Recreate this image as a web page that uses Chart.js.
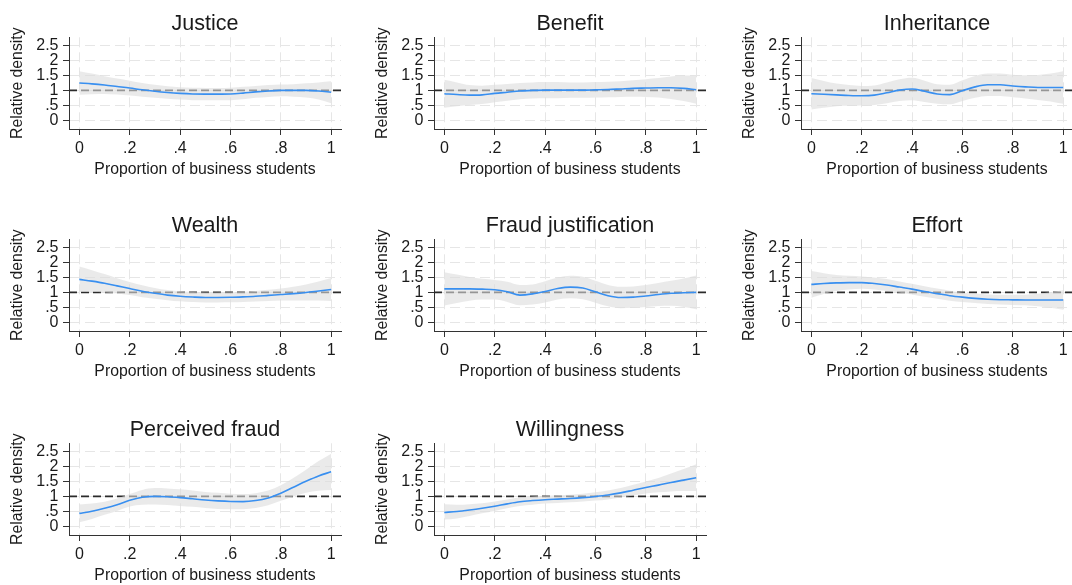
<!DOCTYPE html>
<html><head><meta charset="utf-8">
<script src="https://cdn.jsdelivr.net/npm/chart.js@4.4.0/dist/chart.umd.min.js"></script>
<style>
html,body{margin:0;padding:0;background:#fff;overflow:hidden;width:1072px;height:585px;position:relative}
canvas{position:absolute}
</style></head><body>
<script>
// ---- data ----
const xGrid = [0,0.05,0.1,0.15,0.2,0.25,0.3,0.35,0.4,0.45,0.5,0.55,0.6,0.65,0.7,0.75,0.8,0.85,0.9,0.95,1];
const xTicks = [0,0.2,0.4,0.6,0.8,1];
const xTickLabels = ['0','.2','.4','.6','.8','1'];
const yTicks = [0,0.5,1,1.5,2,2.5];
const yTickLabels = ['0','.5','1','1.5','2','2.5'];
const refValue = 1;
const titles = ['Justice','Benefit','Inheritance','Wealth','Fraud justification','Effort','Perceived fraud','Willingness'];
const xAxisTitle = 'Proportion of business students';
const yAxisTitle = 'Relative density';

const justiceMean  = [1.25,1.22,1.18,1.13,1.08,1.02,0.97,0.93,0.90,0.88,0.875,0.875,0.88,0.91,0.95,0.98,1.0,1.0,1.0,0.98,0.94];
const justiceUpper = [1.65,1.57,1.48,1.40,1.33,1.25,1.19,1.14,1.11,1.09,1.085,1.085,1.09,1.12,1.15,1.18,1.2,1.21,1.24,1.27,1.31];
const justiceLower = [0.85,0.87,0.88,0.86,0.83,0.79,0.75,0.72,0.69,0.67,0.665,0.665,0.67,0.70,0.75,0.78,0.80,0.79,0.76,0.69,0.57];

const benefitMean  = [0.89,0.86,0.84,0.85,0.9,0.94,0.98,1.0,1.01,1.01,1.01,1.01,1.02,1.03,1.05,1.07,1.08,1.09,1.09,1.07,1.02];
const benefitUpper = [1.36,1.27,1.18,1.16,1.19,1.22,1.25,1.27,1.28,1.28,1.27,1.27,1.28,1.29,1.31,1.34,1.38,1.42,1.47,1.5,1.49];
const benefitLower = [0.42,0.47,0.51,0.54,0.6,0.65,0.7,0.73,0.74,0.74,0.75,0.75,0.76,0.77,0.78,0.79,0.78,0.76,0.71,0.64,0.55];

const inheritMean  = [0.89,0.87,0.85,0.83,0.82,0.84,0.92,1.01,1.05,0.97,0.88,0.86,0.99,1.12,1.19,1.19,1.15,1.12,1.10,1.10,1.10];
const inheritUpper = [1.42,1.32,1.23,1.18,1.15,1.17,1.27,1.38,1.43,1.33,1.21,1.19,1.34,1.49,1.57,1.57,1.53,1.51,1.52,1.57,1.65];
const inheritLower = [0.36,0.42,0.47,0.48,0.49,0.51,0.57,0.64,0.67,0.61,0.55,0.53,0.64,0.75,0.81,0.81,0.77,0.73,0.68,0.63,0.55];

const wealthMean  = [1.44,1.38,1.31,1.22,1.13,1.04,0.97,0.91,0.87,0.845,0.83,0.83,0.835,0.85,0.87,0.9,0.93,0.96,1.0,1.05,1.1];
const wealthUpper = [1.87,1.75,1.62,1.48,1.35,1.24,1.15,1.08,1.04,1.015,1.0,1.0,1.005,1.02,1.05,1.09,1.13,1.19,1.27,1.37,1.49];
const wealthLower = [1.01,1.01,1.0,0.96,0.91,0.84,0.79,0.74,0.70,0.675,0.66,0.66,0.665,0.68,0.69,0.71,0.73,0.73,0.73,0.73,0.71];

const fraudJustMean  = [1.12,1.12,1.12,1.11,1.09,1.02,0.91,0.95,1.03,1.13,1.18,1.15,1.02,0.89,0.83,0.84,0.88,0.93,0.97,0.99,1.0];
const fraudJustUpper = [1.68,1.60,1.52,1.46,1.42,1.36,1.25,1.27,1.38,1.50,1.56,1.53,1.39,1.25,1.19,1.20,1.25,1.32,1.39,1.47,1.57];
const fraudJustLower = [0.56,0.64,0.72,0.76,0.76,0.68,0.57,0.59,0.66,0.76,0.80,0.77,0.65,0.53,0.47,0.48,0.51,0.54,0.55,0.51,0.43];

const effortMean  = [1.27,1.30,1.32,1.33,1.33,1.30,1.25,1.18,1.11,1.03,0.96,0.89,0.84,0.80,0.77,0.755,0.75,0.745,0.745,0.745,0.745];
const effortUpper = [1.72,1.65,1.59,1.56,1.54,1.50,1.45,1.37,1.29,1.21,1.13,1.06,1.00,0.96,0.93,0.92,0.92,0.925,0.955,1.005,1.075];
const effortLower = [0.82,0.95,1.05,1.10,1.12,1.10,1.05,0.99,0.93,0.85,0.79,0.72,0.68,0.64,0.61,0.59,0.58,0.565,0.535,0.485,0.415];

const perceivedMean  = [0.43,0.5,0.6,0.72,0.87,0.97,1.0,0.99,0.96,0.92,0.88,0.85,0.83,0.825,0.86,0.95,1.11,1.31,1.51,1.69,1.83];
const perceivedUpper = [0.73,0.76,0.82,0.93,1.08,1.22,1.28,1.27,1.24,1.20,1.15,1.12,1.09,1.08,1.11,1.2,1.38,1.62,1.90,2.19,2.44];
const perceivedLower = [0.13,0.24,0.38,0.51,0.66,0.72,0.73,0.71,0.68,0.65,0.61,0.58,0.57,0.57,0.61,0.70,0.85,1.0,1.12,1.19,1.22];

const willingMean  = [0.46,0.49,0.54,0.6,0.67,0.75,0.82,0.86,0.89,0.91,0.93,0.96,1.0,1.05,1.12,1.21,1.3,1.38,1.47,1.55,1.63];
const willingUpper = [0.74,0.72,0.74,0.77,0.83,0.9,0.96,1.0,1.02,1.04,1.06,1.09,1.14,1.2,1.28,1.39,1.5,1.62,1.77,1.92,2.08];
const willingLower = [0.22,0.26,0.34,0.43,0.51,0.6,0.68,0.72,0.76,0.78,0.8,0.83,0.86,0.9,0.96,1.03,1.1,1.14,1.17,1.18,1.18];

// ---- styling / layout ----
const X_MIN = -0.041, X_MAX = 1.039;
const Y_MIN = -0.30, Y_MAX = 2.79;
const FONT = "'Liberation Sans', Arial, sans-serif";
const TXT = '#1a1a1a';
const BLUE = '#388ff0';
const BAND = 'rgba(220,220,220,0.6)';
const panelLeft = [0, 365, 732];
const panelTop = [0, 202, 406];
const W = 366, H = 203;

Chart.defaults.font.family = FONT;
Chart.defaults.color = TXT;

const series = [
  [justiceMean, justiceUpper, justiceLower],
  [benefitMean, benefitUpper, benefitLower],
  [inheritMean, inheritUpper, inheritLower],
  [wealthMean, wealthUpper, wealthLower],
  [fraudJustMean, fraudJustUpper, fraudJustLower],
  [effortMean, effortUpper, effortLower],
  [perceivedMean, perceivedUpper, perceivedLower],
  [willingMean, willingUpper, willingLower]
];

const pts = arr => xGrid.map((x, i) => ({x: x, y: arr[i]}));

titles.forEach((t, k) => {
  const c = document.createElement('canvas');
  c.width = W; c.height = H;
  c.style.left = panelLeft[k % 3] + 'px';
  c.style.top = panelTop[Math.floor(k / 3)] + 'px';
  c.style.width = W + 'px'; c.style.height = H + 'px';
  document.body.appendChild(c);
  const [m, up, lo] = series[k];
  new Chart(c.getContext('2d'), {
    type: 'line',
    data: {
      datasets: [
        {data: pts(m), borderColor: BLUE, borderWidth: 1.6, pointRadius: 0, fill: false,
         cubicInterpolationMode: 'monotone', order: 0},
        {data: pts(up), borderColor: 'transparent', borderWidth: 0, pointRadius: 0, fill: '+1',
         backgroundColor: BAND, cubicInterpolationMode: 'monotone', order: 1},
        {data: pts(lo), borderColor: 'transparent', borderWidth: 0, pointRadius: 0, fill: false,
         cubicInterpolationMode: 'monotone', order: 2},
        {data: [{x: X_MIN, y: refValue}, {x: X_MAX, y: refValue}], borderColor: '#2b2b2b',
         borderWidth: 1.8, borderDash: [8, 4], pointRadius: 0, fill: false, order: 3}
      ]
    },
    options: {
      responsive: false,
      animation: false,
      events: [],
      layout: {padding: {top: 0, right: 25, bottom: 24, left: 0}},
      plugins: {
        legend: {display: false},
        tooltip: {enabled: false},
        title: {display: true, text: t, fullSize: false, color: TXT,
                font: {size: 21.5, weight: 'normal', family: FONT},
                padding: {top: 11, bottom: 0.5}}
      },
      scales: {
        x: {
          type: 'linear', min: X_MIN, max: X_MAX,
          afterBuildTicks: s => { s.ticks = xTicks.map(v => ({value: v})); },
          afterFit: s => { s.height = 50; },
          ticks: {callback: (v, i) => xTickLabels[i], font: {size: 16}, color: TXT, padding: 4,
                  autoSkip: false, maxRotation: 0},
          grid: {color: '#e6e6e6', lineWidth: 1, tickLength: 6, tickColor: '#333', tickWidth: 1,
                 tickBorderDash: [], borderDash: [10, 5]},
          border: {display: true, color: '#333', width: 1, dash: [10, 5]},
          title: {display: true, text: xAxisTitle, font: {size: 15.8}, color: TXT,
                  padding: {top: 0, bottom: 0}}
        },
        y: {
          type: 'linear', min: Y_MIN, max: Y_MAX,
          afterBuildTicks: s => { s.ticks = yTicks.map(v => ({value: v})); },
          afterFit: s => { s.width = 69; },
          ticks: {callback: (v, i) => yTickLabels[i], font: {size: 16}, color: TXT, padding: 4.5,
                  autoSkip: false},
          grid: {color: '#e6e6e6', lineWidth: 1, tickLength: 6, tickColor: '#333', tickWidth: 1,
                 tickBorderDash: [], borderDash: [10, 5]},
          border: {display: true, color: '#333', width: 1, dash: [10, 5]},
          title: {display: true, text: yAxisTitle, font: {size: 15.8}, color: TXT,
                  padding: {top: 8, bottom: 0}}
        }
      }
    }
  });
});
</script>
</body></html>
